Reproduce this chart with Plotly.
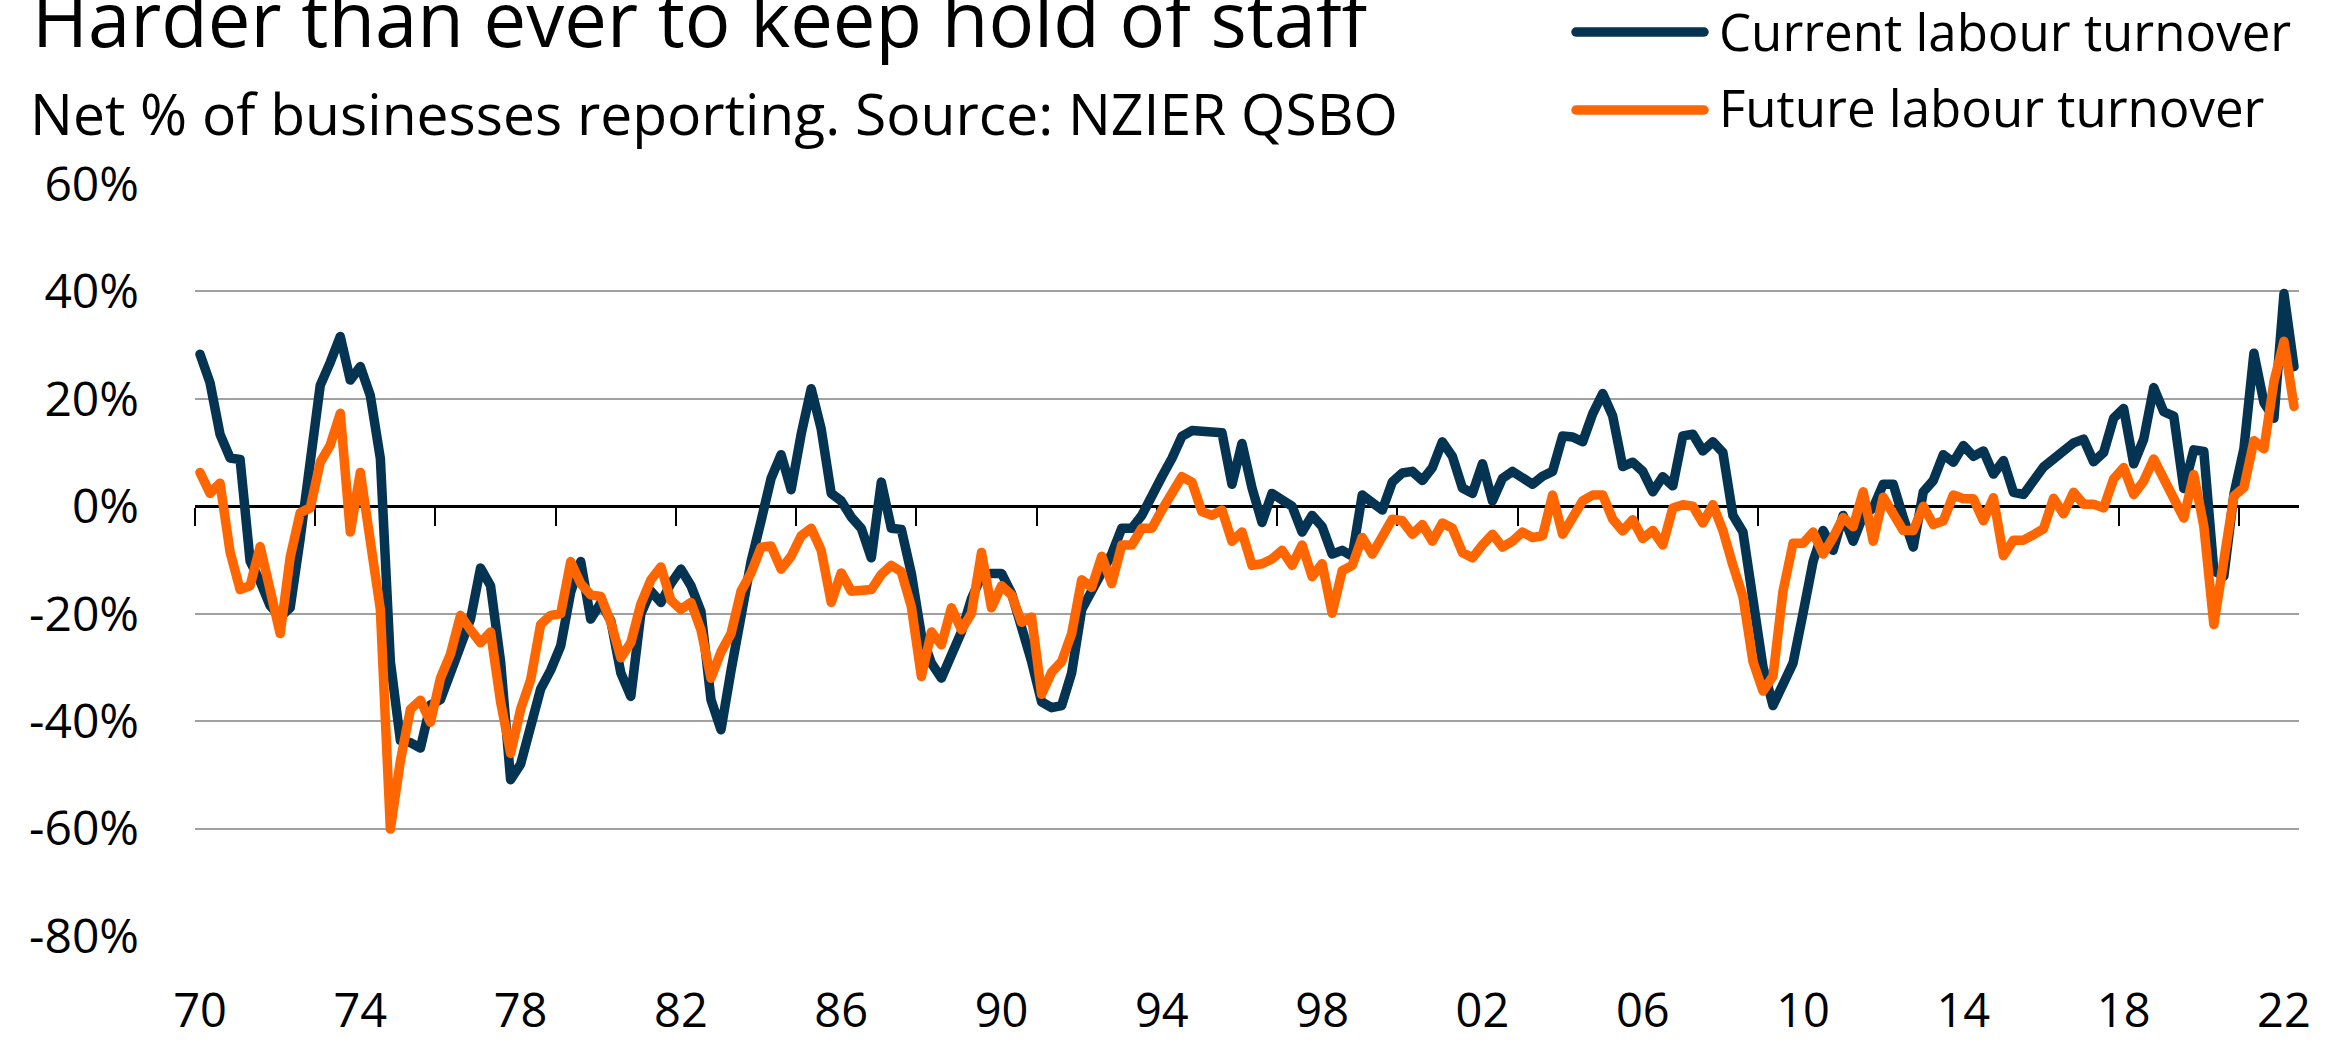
import plotly.graph_objects as go

# ---------------- data ----------------
year_labels = ["70", "74", "78", "82", "86", "90", "94", "98",
               "02", "06", "10", "14", "18", "22"]

current_turnover = [
    28.3, 23.0, 13.4, 9.0, 8.7, -10.2, -14.0, -18.5, -20.6, -18.9, -6.0, 8.0,
    22.5, 26.8, 31.6, 23.5, 26.0, 20.6, 8.9, -28.9, -43.6, -44.0, -45.0, -37.0,
    -36.0, -31.0, -25.4, -21.0, -11.5, -14.8, -28.9, -50.9, -48.0, -40.5, -34.0, -30.5,
    -26.0, -16.0, -10.3, -21.0, -18.0, -21.3, -31.0, -35.4, -20.0, -15.8, -17.9, -14.4,
    -11.7, -14.8, -19.6, -36.0, -41.6, -30.6, -20.0, -10.3, -2.7, 5.2, 9.6, 3.1,
    13.4, 21.9, 14.4, 2.4, 1.0, -2.0, -4.1, -9.6, 4.5, -4.1, -4.3, -12.5,
    -24.0, -29.2, -32.0, -27.5, -23.4, -17.2, -13.0, -12.5, -12.5, -16.2, -22.0, -28.9,
    -36.4, -37.5, -37.1, -31.0, -19.2, -15.8, -12.4, -8.9, -4.1, -4.1, -1.7, 2.4,
    5.5, 8.9, 13.0, 14.1, 14.1, 13.7, 13.7, 4.1, 11.7, 3.4, -3.0, 2.4,
    1.3, 0.0, -4.8, -1.7, -3.8, -8.9, -8.2, -9.3, 2.1, 0.7, -0.7, 4.5,
    6.2, 6.5, 4.8, 7.2, 12.0, 9.3, 3.4, 2.4, 7.9, 1.0, 5.2, 6.5,
    5.2, 4.1, 5.6, 6.5, 13.1, 12.9, 12.0, 17.2, 21.0, 16.8, 7.4, 8.2,
    6.5, 2.7, 5.5, 3.8, 13.1, 13.4, 10.3, 12.0, 10.0, -1.7, -4.8, -18.6,
    -29.9, -37.1, -33.3, -29.2, -19.9, -10.3, -4.5, -8.2, -1.7, -6.5, -1.7, -0.3,
    4.1, 4.1, -2.1, -7.6, 2.7, 4.8, 9.6, 8.2, 11.3, 9.3, 10.3, 6.0,
    8.5, 2.6, 2.2, 4.7, 7.3, 8.8, 10.4, 11.8, 12.5, 8.3, 10.0, 16.4,
    18.2, 7.9, 12.5, 22.1, 17.6, 16.8, 3.3, 10.5, 10.2, -12.0, -13.0, 2.2,
    10.7, 28.5, 19.3, 16.4, 39.6, 26.0,
]

future_turnover = [
    6.3, 2.4, 4.3, -8.5, -15.5, -14.8, -7.5, -15.8, -23.7, -9.5, -1.2, -0.3,
    8.2, 11.4, 17.3, -4.8, 6.3, -6.5, -19.2, -60.1, -47.4, -37.8, -36.1, -40.2,
    -32.0, -27.5, -20.3, -23.0, -25.4, -23.4, -36.4, -46.0, -37.8, -32.3, -22.0, -20.3,
    -20.0, -10.3, -14.4, -16.5, -16.8, -21.6, -28.2, -25.4, -18.2, -13.7, -11.3, -17.5,
    -19.2, -17.9, -23.0, -32.0, -27.1, -23.7, -15.8, -12.4, -7.6, -7.4, -11.7, -9.3,
    -5.5, -4.1, -8.2, -17.9, -12.4, -15.8, -15.8, -15.5, -12.7, -11.0, -12.2, -18.7,
    -31.7, -23.4, -25.8, -18.9, -23.0, -19.9, -8.6, -18.9, -14.8, -16.5, -21.6, -20.6,
    -35.0, -30.9, -28.9, -23.7, -13.7, -15.1, -9.3, -14.4, -7.2, -7.2, -4.1, -4.1,
    -0.7, 2.1, 5.5, 4.5, -1.0, -1.7, -0.7, -6.5, -4.8, -11.0, -10.7, -9.8,
    -8.2, -11.0, -7.2, -13.1, -10.7, -19.9, -12.0, -11.0, -5.8, -8.9, -5.8, -2.4,
    -2.7, -5.2, -3.4, -6.5, -3.1, -4.1, -8.6, -9.6, -7.2, -5.2, -7.6, -6.5,
    -4.8, -5.8, -5.5, 2.1, -5.2, -2.1, 1.0, 2.1, 2.1, -2.4, -4.6, -2.5,
    -6.0, -4.5, -7.2, -0.3, 0.3, 0.0, -3.1, 0.3, -4.5, -11.0, -16.8, -28.9,
    -34.4, -31.6, -15.8, -6.9, -6.9, -4.8, -8.9, -5.8, -2.1, -3.8, 2.7, -6.5,
    1.7, -1.4, -4.5, -4.5, 0.0, -3.4, -2.7, 2.1, 1.4, 1.4, -2.7, 1.6,
    -9.2, -6.3, -6.3, -5.3, -4.2, 1.5, -1.4, 2.6, 0.4, 0.4, -0.3, 5.1,
    7.2, 2.2, 4.7, 8.8, 5.0, 1.9, -2.2, 5.9, -3.7, -22.0, -9.0, 1.9,
    3.5, 12.2, 10.7, 23.2, 30.7, 18.6,
]

y_tick_values = [60, 40, 20, 0, -20, -40, -60, -80]
y_tick_labels = ["60%", "40%", "20%", "0%", "-20%", "-40%", "-60%", "-80%"]

# quarterly categories 1970Q1 .. 2022Q2
quarters = [f"{1970 + k // 4}Q{k % 4 + 1}" for k in range(len(current_turnover))]
xpos = list(range(len(quarters)))
label_pos = [quarters.index(f"19{y}Q1" if int(y) >= 70 else f"20{y}Q1") for y in year_labels]
tick_pos = [p - 0.5 for p in range(0, len(quarters), 12)]

# ---------------- style ----------------
W, H = 2336, 1042
ML, MR, MT, MB = 195, 37, 184, 106
PW, PH = W - ML - MR, H - MT - MB
FONT = "Open Sans"
BLUE = "#053352"
ORANGE = "#FF6600"
LW = 9.5


def px_x(x):
    return (x - ML) / PW


def px_y(y):
    return (H - MB - y) / PH


fig = go.Figure()
fig.add_trace(go.Scatter(x=xpos, y=current_turnover, mode="lines", name="Current labour turnover",
                         line=dict(color=BLUE, width=LW), showlegend=False, hoverinfo="skip"))
fig.add_trace(go.Scatter(x=xpos, y=future_turnover, mode="lines", name="Future labour turnover",
                         line=dict(color=ORANGE, width=LW), showlegend=False, hoverinfo="skip"))
# invisible helper trace so the zero-line axis (with its tick marks) is drawn
fig.add_trace(go.Scatter(x=xpos, y=current_turnover, mode="lines", xaxis="x2", yaxis="y",
                         line=dict(width=0), opacity=0, showlegend=False, hoverinfo="skip"))

xr = [-0.5, len(quarters) - 0.5]
fig.update_layout(
    width=W, height=H,
    margin=dict(l=ML, r=MR, t=MT, b=MB, pad=0, autoexpand=False),
    paper_bgcolor="white", plot_bgcolor="white",
    font=dict(family=FONT, color="black"),
    xaxis=dict(range=xr, tickvals=label_pos, ticktext=year_labels, showgrid=False, automargin=False,
               zeroline=False, showline=False, ticks="", tickfont=dict(size=47, family=FONT, color="black"),
               ticklabelstandoff=43),
    xaxis2=dict(range=xr, overlaying="x", anchor="free", position=80 / 140, side="bottom",
                tickvals=tick_pos, showticklabels=False, ticks="outside", ticklen=18, tickwidth=2,
                tickcolor="black", showline=True, linecolor="black", linewidth=2.5, automargin=False,
                showgrid=False, zeroline=False, layer="below traces"),
    yaxis=dict(range=[-80, 60], tickvals=y_tick_values, ticktext=y_tick_labels, showgrid=True,
               gridcolor="#a0a0a0", gridwidth=1.6, zeroline=False, showline=False, ticks="",
               automargin=False,
               tickfont=dict(size=48, family=FONT, color="black"), ticklabelstandoff=55),
    showlegend=False,
)

annotations = [
    dict(text="Harder than ever to keep hold of staff", x=px_x(30), y=px_y(17), font=dict(size=76)),
    dict(text="Net % of businesses reporting. Source: NZIER QSBO", x=px_x(28), y=px_y(113),
         font=dict(size=57)),
    dict(text="Current labour turnover", x=px_x(1717), y=px_y(31), font=dict(size=51)),
    dict(text="Future labour turnover", x=px_x(1717), y=px_y(107), font=dict(size=51)),
]
for a in annotations:
    a.update(xref="paper", yref="paper", showarrow=False, xanchor="left", yanchor="middle")
    a["font"].update(family=FONT, color="black")
fig.update_layout(annotations=annotations)

fig.update_layout(shapes=[
    dict(type="line", xref="paper", yref="paper", x0=px_x(1576), x1=px_x(1704), y0=px_y(32), y1=px_y(32),
         line=dict(color=BLUE, width=LW)),
    dict(type="line", xref="paper", yref="paper", x0=px_x(1576), x1=px_x(1704), y0=px_y(110), y1=px_y(110),
         line=dict(color=ORANGE, width=LW)),
])

post = """
document.body.style.margin='0';
document.body.style.overflow='hidden';
document.querySelectorAll('.scatterlayer path.js-line, .shapelayer path').forEach(function(p){
  p.style.strokeLinejoin='round'; p.style.strokeLinecap='round';
});
"""
fig.write_html("out.html", post_script=post, config={"displayModeBar": False})
